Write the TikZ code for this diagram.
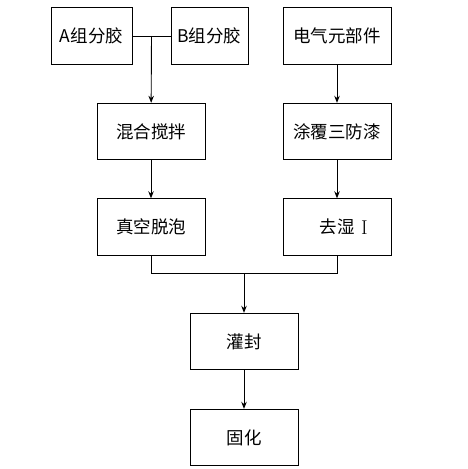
\documentclass[tikz,border=0pt]{standalone}
\usepackage{fontspec}
\setmainfont{Noto Sans CJK SC}
\newfontfamily\latinfont{Latin Modern Roman}
\usetikzlibrary{arrows.meta}
\begin{document}
\begin{tikzpicture}[
    x=1pt, y=-1pt,
    box/.style={rectangle, draw, line width=0.9pt, minimum width=108pt, minimum height=56.5pt, inner sep=0pt, align=center, font=\fontsize{17.5}{20}\selectfont},
    smallbox/.style={box, minimum width=80pt},
    arrow/.style={-{Stealth[length=7pt, width=5.5pt]}, line width=0.9pt},
    line/.style={line width=0.9pt}
]
\useasboundingbox (0,0) rectangle (468,469);

% Raw materials
\node[smallbox, minimum width=81pt] (compA) at (91.5,36) {A组分胶};
\node[smallbox, minimum width=77pt] (compB) at (209.5,36) {B组分胶};
\node[box] (elec) at (337,36) {电气元部件};

% Preparation
\node[box] (mix) at (151,131.5) {混合搅拌};
\node[box] (coat) at (337,131.5) {涂覆三防漆};

\node[box] (vacuum) at (151,227) {真空脱泡};
\node[box] (dry) at (337,227) {去湿};
\node[font=\latinfont\fontsize{20}{22}\selectfont, inner sep=0pt] (cursor) at (364.5,227.5) {I};

% Potting and curing
\node[box] (pot) at (244,341.5) {灌封};
\node[box] (cure) at (244,437.5) {固化};

% Connections
\coordinate (mixin) at (151.5,36);
\coordinate (join) at (244,273);

\draw[line] (compA) -- (compB);
\draw[arrow] (mixin) -- (mix);
\draw[arrow] (mix) -- (vacuum);

\draw[arrow] (elec) -- (coat);
\draw[arrow] (coat) -- (dry);

\draw[line] (vacuum) |- (join);
\draw[line] (dry) |- (join);
\draw[arrow] (join) -- (pot);
\draw[arrow] (pot) -- (cure);

\end{tikzpicture}
\end{document}
